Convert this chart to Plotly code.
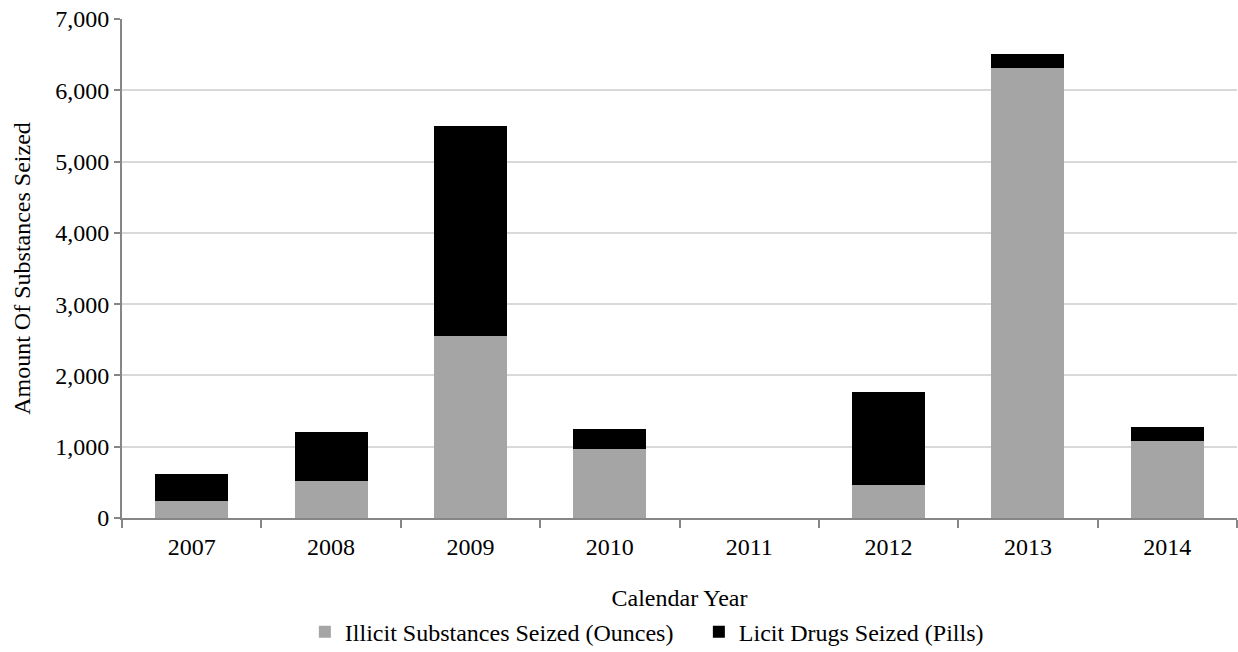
import plotly.graph_objects as go

years = ["2007", "2008", "2009", "2010", "2011", "2012", "2013", "2014"]
illicit_ounces = [245, 519, 2548, 968, 0, 468, 6311, 1080]
licit_pills = [378, 693, 2950, 286, 0, 1295, 202, 202]

FONT = "Liberation Serif, Times New Roman, serif"
FS = 24

fig = go.Figure()
fig.add_trace(go.Bar(
    x=years, y=illicit_ounces, name="Illicit Substances Seized (Ounces)",
    marker=dict(color="#a5a5a5", line=dict(width=0)),
))
fig.add_trace(go.Bar(
    x=years, y=licit_pills, name="Licit Drugs Seized (Pills)",
    marker=dict(color="#000000", line=dict(width=0)),
))

fig.update_layout(
    width=1238, height=652,
    barmode="stack", bargap=0.477,
    plot_bgcolor="white", paper_bgcolor="white",
    margin=dict(l=122, r=1, t=19, b=134, autoexpand=False),
    font=dict(family=FONT, size=FS, color="#000000"),
    showlegend=True,
    legend=dict(
        orientation="h", x=0.164, xanchor="left", y=-0.229, yanchor="middle",
        traceorder="normal", entrywidth=349, font=dict(size=FS),
        itemwidth=30,
    ),
)

fig.update_xaxes(
    type="category",
    title=dict(text="Calendar Year", standoff=30, font=dict(size=FS)),
    showline=True, linecolor="#868686", linewidth=2,
    ticks="outside", tickson="boundaries", ticklen=8, tickcolor="#868686", tickwidth=2,
    ticklabelstandoff=6,
    showgrid=False, tickfont=dict(size=FS),
)
fig.update_yaxes(
    title=dict(text="Amount Of Substances Seized", standoff=18, font=dict(size=FS)),
    range=[0, 7000], dtick=1000, tickformat=",",
    showline=True, linecolor="#868686", linewidth=2,
    ticks="outside", ticklen=6, tickcolor="#868686", tickwidth=2,
    showgrid=True, gridcolor="#d9d9d9", gridwidth=2,
    zeroline=False, tickfont=dict(size=FS),
)

fig.write_html("out.html")
